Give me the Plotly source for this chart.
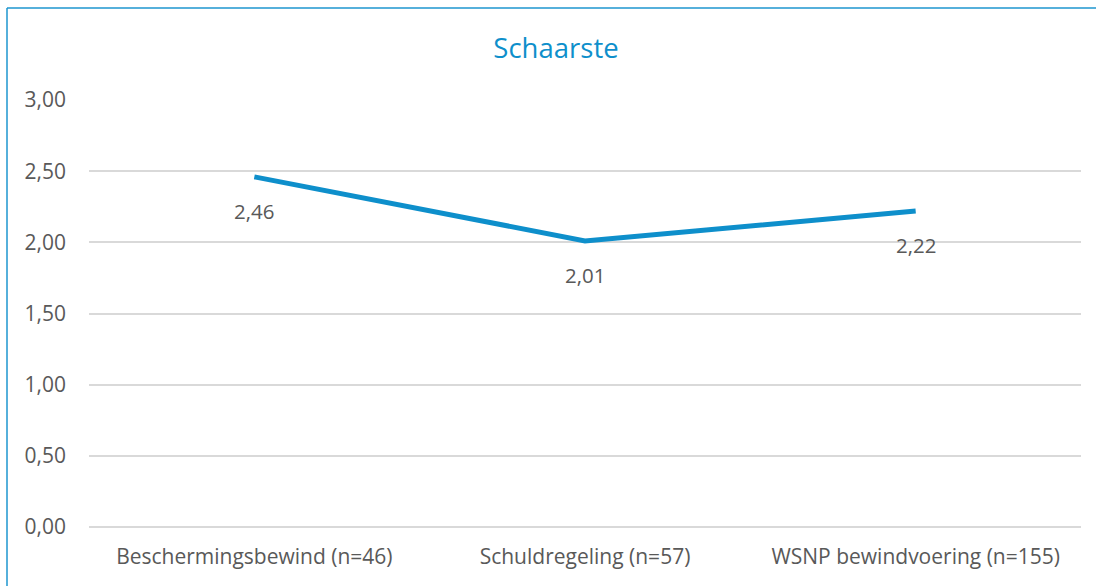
"""Line chart: Schaarste per regeling."""

import plotly.graph_objects as go

categories = ["Beschermingsbewind (n=46)", "Schuldregeling (n=57)", "WSNP bewindvoering (n=155)"]
values = [2.46, 2.01, 2.22]
y_ticks = [0, 0.5, 1.0, 1.5, 2.0, 2.5, 3.0]
y_labels = ["0,00", "0,50", "1,00", "1,50", "2,00", "2,50", "3,00"]

BLUE = "#0E8FCB"
GREY = "#595959"
FONT = "Open Sans"

W, H = 1096, 586
L, R, T, B = 89, 15, 100, 59
pw, ph = W - L - R, H - T - B

fig = go.Figure()
fig.add_scatter(x=categories, y=values, mode="lines",
                line=dict(color=BLUE, width=5), hoverinfo="skip", showlegend=False)

for c, v in zip(categories, values):
    fig.add_annotation(x=c, y=v, text=f"{v:.2f}".replace(".", ","), showarrow=False,
                       yshift=-34, font=dict(family=FONT, size=20.5, color=GREY))

# chart frame (only top and left edges visible in the crop)
x0 = (7 - L) / pw
y0 = (H - B - 8) / ph
fig.add_shape(type="line", xref="paper", yref="paper", x0=x0, y0=y0, x1=1.1, y1=y0,
              line=dict(color="#1E96CF", width=1.5))
fig.add_shape(type="line", xref="paper", yref="paper", x0=x0, y0=y0, x1=x0, y1=-0.3,
              line=dict(color="#1E96CF", width=1.5))

fig.update_layout(
    width=W, height=H,
    margin=dict(l=L, r=R, t=T, b=B),
    paper_bgcolor="white", plot_bgcolor="white",
    font=dict(family=FONT, size=21, color=GREY),
    title=dict(text="Schaarste", x=556 / W, xanchor="center", y=(H - 48) / H, yanchor="middle",
               font=dict(family=FONT, size=27.5, color=BLUE)),
    xaxis=dict(range=[-0.5, 2.5], showgrid=False, showline=False, zeroline=False,
               ticks="", ticklabelstandoff=15, tickfont=dict(size=21, color=GREY)),
    yaxis=dict(range=[0, 3], tickvals=y_ticks, ticktext=y_labels, showgrid=True,
               gridcolor="#D9D9D9", gridwidth=1.5, zeroline=True, zerolinecolor="#D9D9D9",
               zerolinewidth=1.5, showline=False,
               ticks="", ticklabelstandoff=22, tickfont=dict(size=21, color=GREY)),
)

fig.write_html("out.html", config={"displayModeBar": False},
               post_script="document.body.style.margin='0';")
